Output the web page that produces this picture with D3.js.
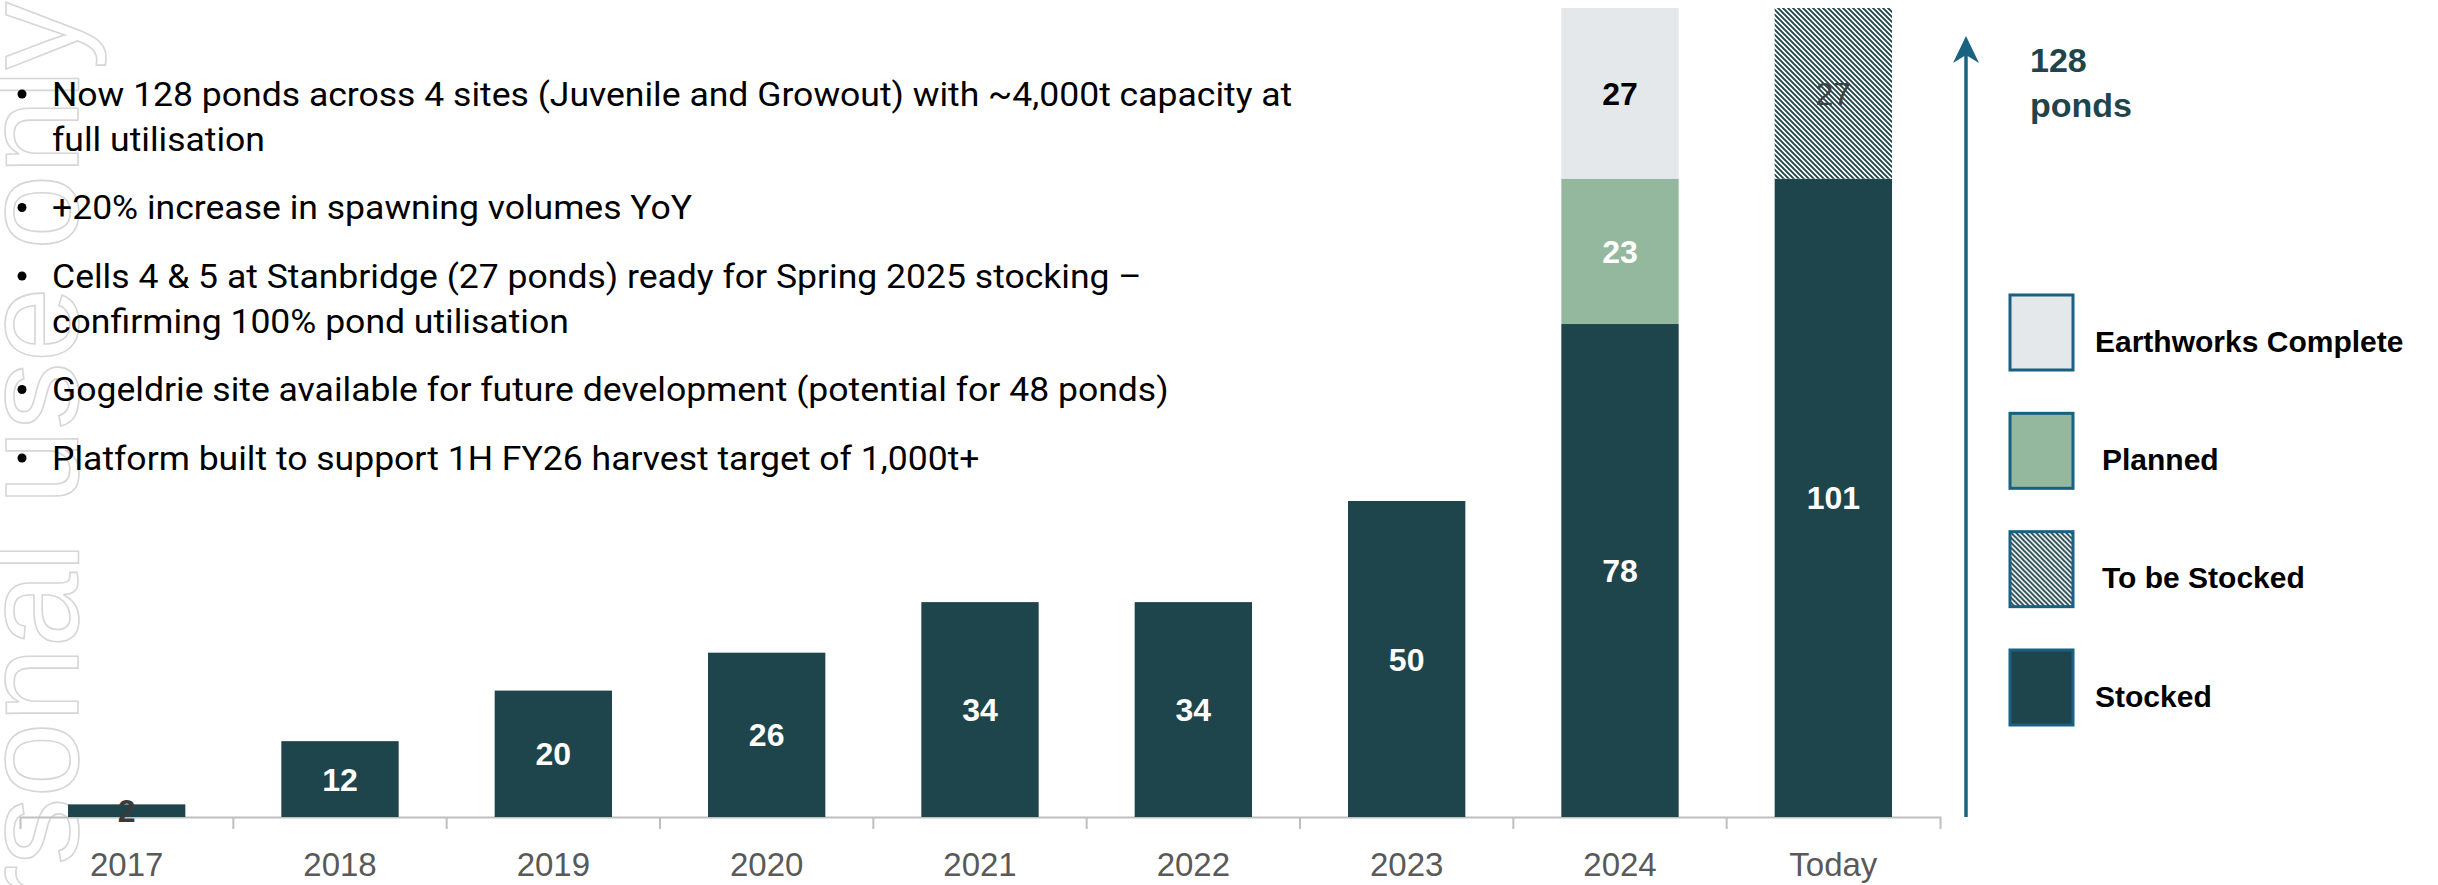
<!DOCTYPE html>
<html>
<head>
<meta charset="utf-8">
<script src="https://cdn.jsdelivr.net/npm/d3@7"></script>
<style>
  html, body { margin: 0; padding: 0; background: #fff; }
  svg { display: block; }
</style>
</head>
<body>
<div id="chart"></div>
<script>
// chart data
const categories = ['2017', '2018', '2019', '2020', '2021', '2022', '2023', '2024', 'Today'];
const stocked = [2, 12, 20, 26, 34, 34, 50, 78, 101];
const planned = [0, 0, 0, 0, 0, 0, 0, 23, 0];
const earthworks = [0, 0, 0, 0, 0, 0, 0, 27, 0];
const toBeStocked = [0, 0, 0, 0, 0, 0, 0, 0, 27];
const legendOrder = ['Earthworks Complete', 'Planned', 'To be Stocked', 'Stocked'];
const totalPonds = 128;
const totalLabel = ['128', 'ponds'];

const bullets = [
    ['Now 128 ponds across 4 sites (Juvenile and Growout) with ~4,000t capacity at', 'full utilisation'],
    ['+20% increase in spawning volumes YoY'],
    ['Cells 4 & 5 at Stanbridge (27 ponds) ready for Spring 2025 stocking \u2013', 'confirming 100% pond utilisation'],
    ['Gogeldrie site available for future development (potential for 48 ponds)'],
    ['Platform built to support 1H FY26 harvest target of 1,000t+']
];
const watermark = 'For personal use only';

// Set up the dimensions
const width = 2438;
const height = 885;

const svg = d3.select('#chart')
    .append('svg')
    .attr('width', width)
    .attr('height', height);

const defs = svg.append('defs');
const hatch = defs.append('pattern')
    .attr('id', 'hatch')
    .attr('patternUnits', 'userSpaceOnUse')
    .attr('width', 5)
    .attr('height', 5);
hatch.append('rect').attr('width', 5).attr('height', 5).attr('fill', '#fff');
hatch.append('path')
    .attr('d', 'M-1,-1L6,6M-1,4L1,6M4,-1L6,1')
    .attr('stroke', '#1f454c')
    .attr('stroke-width', 1.9);

// series styling, keyed by legend name
const series = {
    'Stocked': { fill: '#1f454c', label: '#fff', weight: 'bold' },
    'Planned': { fill: '#93b89e', label: '#fff', weight: 'bold' },
    'Earthworks Complete': { fill: '#e4e8eb', label: '#000', weight: 'bold' },
    'To be Stocked': { fill: 'url(#hatch)', label: '#404040', weight: 'normal' }
};

const table = categories.map((c, i) => ({
    category: c,
    'Stocked': stocked[i],
    'Planned': planned[i],
    'Earthworks Complete': earthworks[i],
    'To be Stocked': toBeStocked[i]
}));

const stack = d3.stack()
    .keys(['Stocked', 'Planned', 'Earthworks Complete', 'To be Stocked']);
const layers = stack(table);

const x = d3.scaleBand()
    .domain(categories)
    .range([20, 1940])
    .paddingInner(0.45)
    .paddingOuter(0.225);

const y = d3.scaleLinear()
    .domain([0, totalPonds])
    .range([817, 8]);

// watermark sits under the chart so the labels stay readable
svg.append('text')
    .attr('transform', 'translate(78, 2) rotate(-90)')
    .attr('text-anchor', 'end')
    .style('font-family', '"Liberation Sans", Arial, sans-serif')
    .style('font-size', '135px')
    .style('fill', 'none')
    .style('stroke', '#d6d6d6')
    .style('stroke-width', 1.6)
    .text(watermark);

// Add the bars
const layer = svg.selectAll('.layer')
    .data(layers)
    .enter()
    .append('g')
    .attr('class', 'layer');

layer.selectAll('rect')
    .data(d => d.filter(s => s[1] > s[0]).map(s => ({ key: d.key, s: s })))
    .enter()
    .append('rect')
    .attr('x', d => x(d.s.data.category))
    .attr('y', d => y(d.s[1]))
    .attr('width', x.bandwidth())
    .attr('height', d => y(d.s[0]) - y(d.s[1]))
    .attr('fill', d => series[d.key].fill);

// x axis
const xAxis = svg.append('g')
    .attr('transform', `translate(0, ${y(0)})`)
    .call(d3.axisBottom(x).tickSizeInner(0).tickSizeOuter(12).tickPadding(36));

xAxis.select('.domain')
    .attr('stroke', '#bfbfbf')
    .attr('stroke-width', 2);
xAxis.selectAll('.tick text')
    .style('font-family', '"Liberation Sans", Arial, sans-serif')
    .style('font-size', '33px')
    .style('fill', '#595959');

// ticks between the categories
xAxis.selectAll('.sep')
    .data(categories.slice(1))
    .enter()
    .append('line')
    .attr('class', 'sep')
    .attr('x1', d => x(d) - x.step() * x.paddingInner() / 2)
    .attr('x2', d => x(d) - x.step() * x.paddingInner() / 2)
    .attr('y1', 0)
    .attr('y2', 12)
    .attr('stroke', '#bfbfbf')
    .attr('stroke-width', 2);

// value labels in the middle of each segment (drawn after the axis line)
layer.raise();
layer.selectAll('rect').lower();
svg.selectAll('.vlabel')
    .data(layers.flatMap(l => l.filter(s => s[1] > s[0]).map(s => ({ key: l.key, s: s }))))
    .enter()
    .append('text')
    .attr('class', 'vlabel')
    .attr('x', d => x(d.s.data.category) + x.bandwidth() / 2)
    .attr('y', d => (y(d.s[0]) + y(d.s[1])) / 2)
    .attr('dy', '0.36em')
    .attr('text-anchor', 'middle')
    .style('font-family', '"Liberation Sans", Arial, sans-serif')
    .style('font-size', '32px')
    .style('font-weight', d => series[d.key].weight)
    .style('fill', d => (d.s[1] - d.s[0]) < 5 ? '#3a3a3a' : series[d.key].label) // tiny bar -> dark label
    .text(d => d.s[1] - d.s[0]);

// 128 ponds arrow
const arrowX = x.range()[1] + 26;
svg.append('line')
    .attr('x1', arrowX).attr('x2', arrowX)
    .attr('y1', y(0)).attr('y2', y(totalPonds) + 40)
    .attr('stroke', '#1a6282')
    .attr('stroke-width', 3.5);
svg.append('path')
    .attr('d', `M${arrowX},${y(totalPonds) + 28}L${arrowX + 13},${y(totalPonds) + 55}L${arrowX},${y(totalPonds) + 47}L${arrowX - 13},${y(totalPonds) + 55}Z`)
    .attr('fill', '#1a6282');

svg.append('g')
    .selectAll('text')
    .data(totalLabel)
    .enter()
    .append('text')
    .attr('x', arrowX + 64)
    .attr('y', (d, i) => 72 + i * 45)
    .style('font-family', '"Liberation Sans", Arial, sans-serif')
    .style('font-size', '34px')
    .style('font-weight', 'bold')
    .style('fill', '#1f454c')
    .text(d => d);

// legend
const legendY = d3.scalePoint()
    .domain(legendOrder)
    .range([295, 650]);

const legend = svg.selectAll('.legend')
    .data(legendOrder)
    .enter()
    .append('g')
    .attr('class', 'legend')
    .attr('transform', d => `translate(2010, ${legendY(d)})`);

legend.append('rect')
    .attr('x', 0)
    .attr('y', 0)
    .attr('width', 63)
    .attr('height', 75)
    .attr('fill', d => series[d].fill)
    .attr('stroke', '#1b6080')
    .attr('stroke-width', 3);

legend.append('text')
    .attr('x', d => d === 'Earthworks Complete' || d === 'Stocked' ? 85 : 92)
    .attr('y', 46)
    .attr('dy', '0.35em')
    .style('font-family', '"Liberation Sans", Arial, sans-serif')
    .style('font-size', '30px')
    .style('font-weight', 'bold')
    .style('fill', '#000')
    .text(d => d);

// bullet points
const lines = [];
let base = 106;
bullets.forEach(b => {
    b.forEach((t, li) => {
        lines.push({ text: t, y: base, first: li === 0 });
        base += li < b.length - 1 ? 45 : 68.5;
    });
});

const textGroup = svg.append('g');
const bulletText = textGroup.selectAll('text')
    .data(lines)
    .enter()
    .append('text')
    .attr('x', 0)
    .attr('y', d => d.y)
    .style('font-family', 'Roboto, sans-serif')
    .style('font-size', '34px')
    .style('fill', '#000')
    .text(d => d.text);

// squeeze the text to the width of the original narrow font
const firstLen = bulletText.node().getComputedTextLength();
textGroup.attr('transform', `translate(52, 0) scale(${1241 / firstLen}, 1)`);

svg.append('g')
    .selectAll('circle')
    .data(lines.filter(d => d.first))
    .enter()
    .append('circle')
    .attr('cx', 22)
    .attr('cy', d => d.y - 12)
    .attr('r', 4.5)
    .attr('fill', '#000');
</script>
</body>
</html>
